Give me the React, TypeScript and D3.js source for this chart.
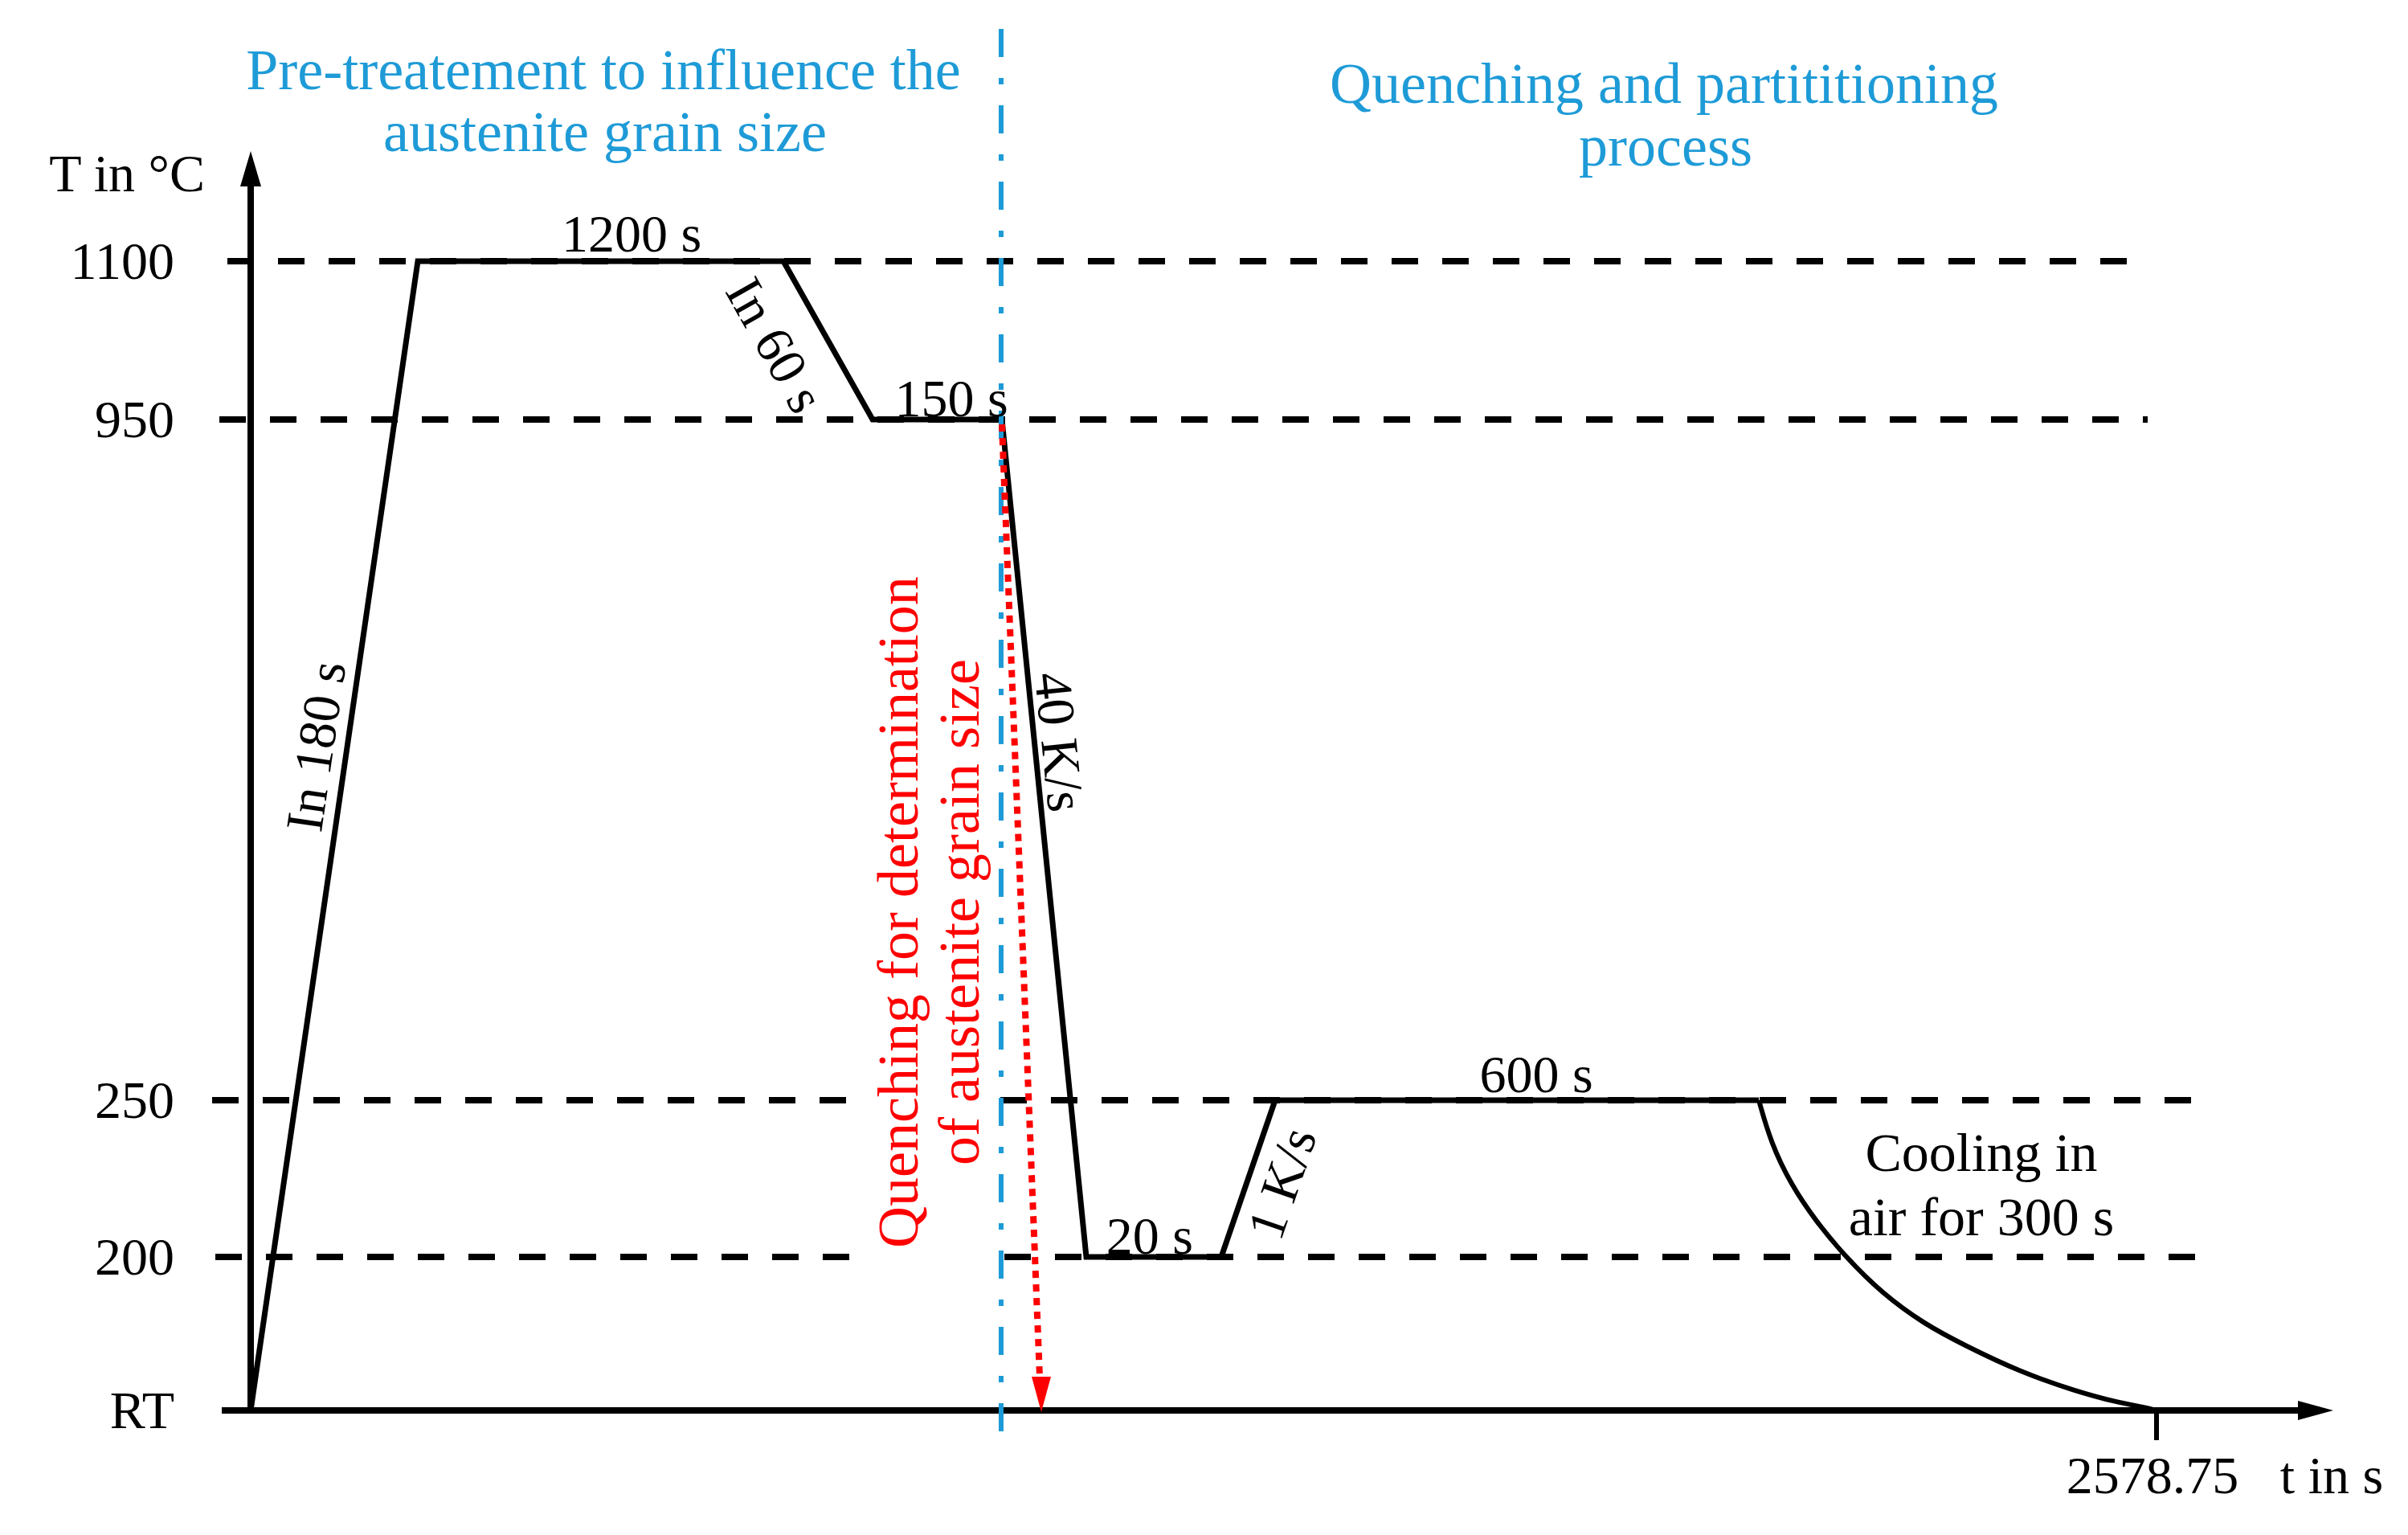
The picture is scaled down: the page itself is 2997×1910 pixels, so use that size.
import * as d3 from "d3";

// Levels on the temperature axis (RT treated as 20 °C)
const T_RT = 20;
const levelValues = [T_RT, 200, 250, 950, 1100];
const levelLabels = ["RT", "200", "250", "950", "1100"];

// Heat treatment profile: cumulative time (s) and temperature (°C)
const profileTimes = [0, 180, 1380, 1440, 1590, 1608.75, 1628.75, 1678.75, 2278.75];
const profileTemps = [T_RT, 1100, 1100, 950, 950, 200, 200, 250, 250];

// Cooling in air
const coolingTimes = [2278.75, 2287.8, 2303, 2321.8, 2344.2, 2371.5, 2403, 2433.9, 2475.7, 2517.6, 2549.1, 2569.7, 2578.75];
const coolingTemps = [250, 236.5, 223.1, 211.4, 200, 157.6, 121.8, 96.3, 65.2, 42.6, 29.4, 23.8, 20];

const segmentLabels = ["In 180 s", "1200 s", "In 60 s", "150 s", "40 K/s", "20 s", "1 K/s", "600 s"];
const endTime = 2578.75;

const W = 2997;
const H = 1910;
const FONT = "'Liberation Serif', 'DejaVu Serif', serif";
const BLUE = "#1e9bd7";
const RED = "#ff0000";

// schematic (non-linear) time axis
const x = d3
  .scaleLinear()
  .domain(profileTimes.concat(endTime))
  .range([312, 520, 975, 1086, 1247, 1352, 1520, 1587, 2189, 2684]);

const y = d3.scaleLinear().domain(levelValues).range([1755, 1564, 1369, 522, 325]);

// label placement along each segment: fraction, offsets, rotation
const labelLayout = [
  { f: 0.578, dx: -40, dy: 0, rot: -81.7 },
  { f: 0.585, dx: 0, dy: -35, rot: 0 },
  { f: 0.528, dx: -68, dy: 0, rot: 60.6 },
  { f: 0.61, dx: 0, dy: -27, rot: 0 },
  { f: 0.385, dx: 32, dy: 0, rot: 84.2 },
  { f: 0.47, dx: 0, dy: -27, rot: 0 },
  { f: 0.472, dx: 43, dy: 0, rot: -71 },
  { f: 0.54, dx: 0, dy: -33, rot: 0 },
];

export default function App() {
  const pts: [number, number][] = profileTimes.map((t, i) => [x(t), y(profileTemps[i])]);
  const profilePath = d3.line()(pts) as string;

  const coolPts: [number, number][] = coolingTimes.map((t, i) => [x(t), y(coolingTemps[i])]);
  const coolPath = d3.line().curve(d3.curveBasis)(coolPts) as string;

  const x0 = x(0);
  const yRT = y(T_RT);
  const xQ = x(1590);
  const yQ = y(950);

  // dashed reference lines: [level, start, end] pieces
  const dashed: { v: number; x1: number; x2: number }[] = [
    { v: 1100, x1: 283, x2: 2673 },
    { v: 950, x1: 273, x2: 2673 },
    { v: 250, x1: 264, x2: 1058 },
    { v: 250, x1: 1245, x2: 2753 },
    { v: 200, x1: 268, x2: 1064 },
    { v: 200, x1: 1250, x2: 2744 },
  ];

  const arrowTipX = xQ + 49;
  const arrowTipY = yRT + 2;

  return (
    <svg
      width={W}
      height={H}
      viewBox={`0 0 ${W} ${H}`}
      style={{ position: "absolute", left: 0, top: 0, background: "#fff" }}
      fontFamily={FONT}
    >
      <rect width={W} height={H} fill="#fff" />

      {/* dashed level lines */}
      {dashed.map((d, i) => (
        <line
          key={i}
          x1={d.x1}
          x2={d.x2}
          y1={y(d.v)}
          y2={y(d.v)}
          stroke="#000"
          strokeWidth={8}
          strokeDasharray="33 30"
        />
      ))}
      <line x1={276} x2={x0} y1={yRT} y2={yRT} stroke="#000" strokeWidth={8} />

      {/* axes */}
      <line x1={x0} x2={x0} y1={yRT + 4} y2={228} stroke="#000" strokeWidth={8} />
      <path d={`M${x0},188 L${x0 - 13},232 L${x0 + 13},232 Z`} fill="#000" />
      <line x1={x0 - 4} x2={2866} y1={yRT} y2={yRT} stroke="#000" strokeWidth={8} />
      <path d={`M2904,${yRT} L2860,${yRT - 12} L2860,${yRT + 12} Z`} fill="#000" />
      <line x1={x(endTime)} x2={x(endTime)} y1={yRT} y2={yRT + 37} stroke="#000" strokeWidth={6} />

      {/* axis labels */}
      <text x={255} y={238} fontSize={66} textAnchor="end">T in °C</text>
      {levelValues.map((v, i) => (
        <text key={v} x={217} y={y(v) + 22} fontSize={66} textAnchor="end">
          {levelLabels[i]}
        </text>
      ))}
      <text x={x(endTime) - 5} y={1858} fontSize={66} textAnchor="middle">
        {String(endTime)}
      </text>
      <text x={2902} y={1858} fontSize={66} textAnchor="middle">t in s</text>

      {/* profile */}
      <path d={profilePath} fill="none" stroke="#000" strokeWidth={7} strokeLinejoin="miter" />
      <path d={coolPath} fill="none" stroke="#000" strokeWidth={6} />

      {/* blue separator */}
      <line
        x1={xQ - 1}
        x2={xQ - 1}
        y1={36}
        y2={1795}
        stroke={BLUE}
        strokeWidth={6}
        strokeDasharray="35 26 8 26"
      />

      {/* red quench arrow */}
      <line
        x1={xQ}
        y1={yQ + 6}
        x2={arrowTipX - 2}
        y2={arrowTipY - 44}
        stroke={RED}
        strokeWidth={8}
        strokeDasharray="9 8"
      />
      <path
        d={`M${arrowTipX},${arrowTipY} L${arrowTipX - 12},${arrowTipY - 44} L${arrowTipX + 12},${arrowTipY - 44} Z`}
        fill={RED}
      />

      {/* segment labels */}
      {segmentLabels.map((s, i) => {
        const l = labelLayout[i];
        const [ax, ay] = pts[i];
        const [bx, by] = pts[i + 1];
        const cx = ax + (bx - ax) * l.f + l.dx;
        const cy = ay + (by - ay) * l.f + l.dy;
        return (
          <text
            key={s}
            x={cx}
            y={cy}
            dy="0.35em"
            fontSize={66}
            textAnchor="middle"
            transform={l.rot ? `rotate(${l.rot} ${cx} ${cy})` : undefined}
          >
            {s}
          </text>
        );
      })}

      <text x={2466} y={1457} fontSize={68} textAnchor="middle">Cooling in</text>
      <text x={2466} y={1537} fontSize={68} textAnchor="middle">air for 300 s</text>

      {/* phase titles */}
      <g fill={BLUE} fontSize={72} textAnchor="middle">
        <text x={751} y={111}>Pre-treatement to influence the</text>
        <text x={753} y={188}>austenite grain size</text>
        <text x={2071} y={128}>Quenching and partititioning</text>
        <text x={2073} y={206}>process</text>
      </g>

      {/* red rotated note */}
      <g fill={RED} fontSize={72} textAnchor="middle">
        <text x={1142} y={1135} transform="rotate(-90 1142 1135)">
          Quenching for determination
        </text>
        <text x={1218} y={1135} transform="rotate(-90 1218 1135)">
          of austenite grain size
        </text>
      </g>
    </svg>
  );
}
